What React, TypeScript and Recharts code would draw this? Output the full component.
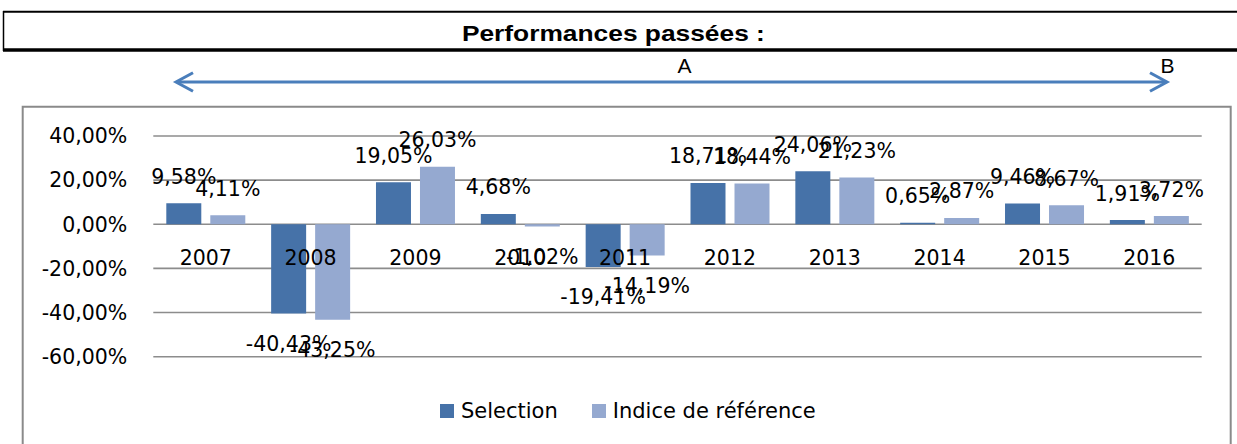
import React from 'react';
import { ComposedChart, Bar, Line, XAxis, YAxis, CartesianGrid, Legend, LabelList } from 'recharts';

const years = ['2007', '2008', '2009', '2010', '2011', '2012', '2013', '2014', '2015', '2016'];
const selection = [9.58, -40.43, 19.05, 4.68, -19.41, 18.71, 24.06, 0.65, 9.46, 1.91];
const indice = [4.11, -43.25, 26.03, -1.02, -14.19, 18.44, 21.23, 2.87, 8.67, 3.72];
const yTicks = [-60, -40, -20, 0, 20, 40];
const seriesNames = ['Selection', 'Indice de référence'];
const seriesKeys = ['selection', 'indice'];
const seriesColors = ['#4672A8', '#95A9D0'];
const title = 'Performances passées :';

const data = years.map((year, i) => ({ year, selection: selection[i], indice: indice[i], base: 0 }));

const FONT = '"DejaVu Sans", sans-serif';
const fmt = (v: number) => v.toFixed(2).replace('.', ',') + '%';

const ValueLabel = (props: any) => {
  const vb = props.viewBox && props.viewBox.width !== undefined ? props.viewBox : props;
  const x = Number(vb.x), y = Number(vb.y), w = Number(vb.width), h = Number(vb.height);
  const value = Number(props.value);
  const top = Math.min(y, y + h);
  const bottom = Math.max(y, y + h);
  const cy = value >= 0 ? top - 26.5 : bottom + 30;
  return (
    <text x={x + w / 2} y={cy} textAnchor="middle" dominantBaseline="central"
      fontFamily={FONT} fontSize={20.5} fill="#000">{fmt(value)}</text>
  );
};

const YearLabel = (props: any) => {
  const vb = props.viewBox || props;
  const x = Number(vb.x) + (Number(vb.width) || 0) / 2;
  const y = Number(vb.y);
  return (
    <text x={x} y={y + 34} textAnchor="middle" dominantBaseline="central"
      fontFamily={FONT} fontSize={20.5} fill="#000">{props.value}</text>
  );
};

const LegendContent = () => (
  <div style={{ display: 'flex', alignItems: 'center', height: 28, fontFamily: FONT, fontSize: 21, color: '#000' }}>
    {seriesNames.map((n, i) => (
      <div key={n} style={{ display: 'flex', alignItems: 'center', marginRight: i === 0 ? 34 : 0 }}>
        <div style={{ width: 14, height: 14, background: seriesColors[i], marginRight: 7 }} />
        <span style={{ whiteSpace: 'nowrap', lineHeight: '28px' }}>{n}</span>
      </div>
    ))}
  </div>
);

export default function App() {
  return (
    <div style={{ position: 'absolute', left: 0, top: 0, width: 1237, height: 444, background: '#fff', overflow: 'hidden' }}>
      <svg width={1237} height={444} style={{ position: 'absolute', left: 0, top: 0 }}>
        <line x1={3.5} y1={11} x2={3.5} y2={51} stroke="#000" strokeWidth={1.5} />
        <line x1={3} y1={11.7} x2={1237} y2={11.7} stroke="#000" strokeWidth={2} />
        <line x1={3} y1={50} x2={1237} y2={50} stroke="#000" strokeWidth={3.5} />
        <text x={613.4} y={41} textAnchor="middle" fontFamily='"Liberation Sans", Arial, sans-serif'
          fontWeight="bold" fontSize={22} textLength={303} lengthAdjust="spacingAndGlyphs" fill="#000">{title}</text>
        <line x1={177} y1={82} x2={1166} y2={82} stroke="#4A7EBB" strokeWidth={3} />
        <polyline points="193,72.7 176,82 193,91.3" fill="none" stroke="#4A7EBB" strokeWidth={3} />
        <polyline points="1150,72.7 1167,82 1150,91.3" fill="none" stroke="#4A7EBB" strokeWidth={3} />
        <text x={684.5} y={73} textAnchor="middle" fontFamily='"Liberation Sans", Arial, sans-serif' fontSize={21} fill="#000">A</text>
        <text x={1167.5} y={73} textAnchor="middle" fontFamily='"Liberation Sans", Arial, sans-serif' fontSize={21} fill="#000">B</text>
        <path d="M22.7,470 V106.7 H1230.7 V470" fill="none" stroke="#8A8A8A" strokeWidth={2} />
      </svg>
      <div style={{ position: 'absolute', left: 0, top: 0 }}>
        <ComposedChart width={1237} height={444} data={data}
          margin={{ top: 136, right: 35.3, left: 23.3, bottom: 59.3 }} barGap={9}>
          <CartesianGrid vertical={false} stroke="#8C8C8C" strokeWidth={1.6} />
          <XAxis dataKey="year" hide />
          <YAxis domain={[-60, 40]} ticks={yTicks} width={130} axisLine={false} tickLine={false}
            tickSize={0} tickMargin={26} tickFormatter={fmt}
            tick={{ fontFamily: FONT, fontSize: 20.5, fill: '#000' }} />
          <Legend verticalAlign="bottom" content={LegendContent}
            wrapperStyle={{ position: 'absolute', top: 396.5, left: 440, width: 420, height: 28 }} />
          {seriesKeys.map((k, i) => (
            <Bar key={k} dataKey={k} name={seriesNames[i]} fill={seriesColors[i]} barSize={35} isAnimationActive={false}>
              <LabelList dataKey={k} content={ValueLabel} />
            </Bar>
          ))}
          <Line dataKey="base" stroke="none" dot={false} activeDot={false} legendType="none" isAnimationActive={false}>
            <LabelList dataKey="year" content={YearLabel} />
          </Line>
        </ComposedChart>
      </div>
    </div>
  );
}
